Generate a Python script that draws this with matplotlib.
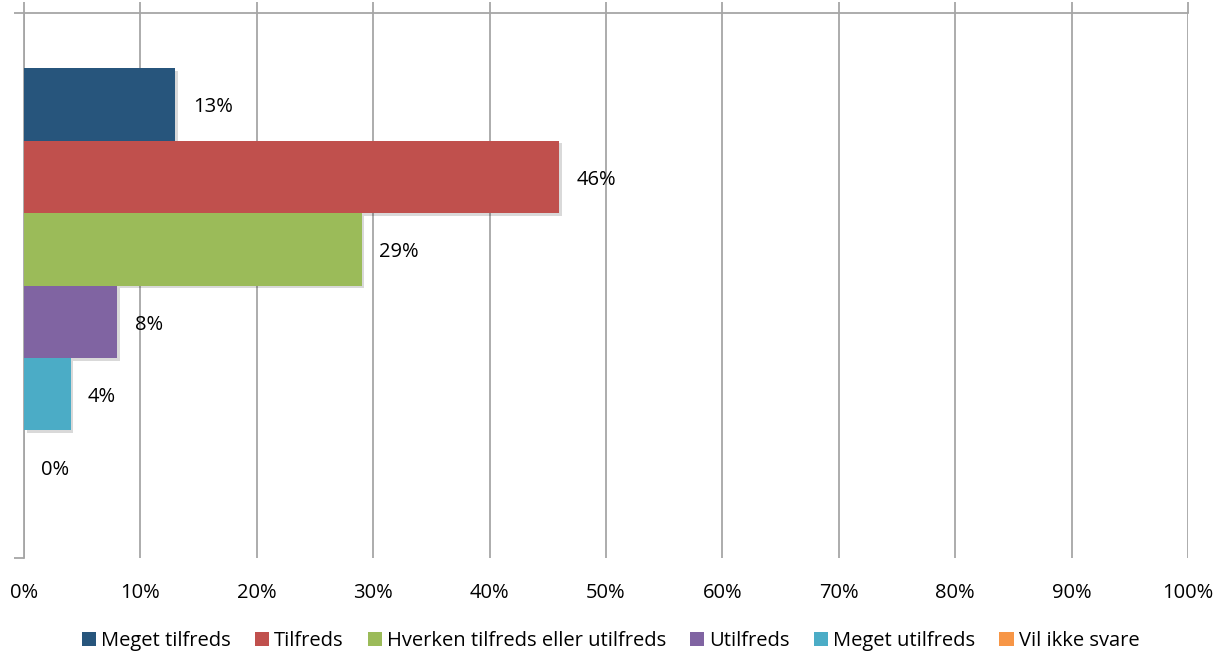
import matplotlib.pyplot as plt
import matplotlib.patheffects as pe
from matplotlib.ticker import PercentFormatter

plt.rcParams['font.family'] = ['Open Sans', 'DejaVu Sans']
plt.rcParams['font.size'] = 14.5

categories = [
    "Meget tilfreds",
    "Tilfreds",
    "Hverken tilfreds eller utilfreds",
    "Utilfreds",
    "Meget utilfreds",
    "Vil ikke svare",
]
values = [13, 46, 29, 8, 4, 0]
colors = ['#27557C', '#C0504D', '#9BBB59', '#8064A2', '#4BACC6', '#F79646']
x_ticks = list(range(0, 101, 10))

fig = plt.figure(figsize=(12.21, 6.59), dpi=100)
ax = fig.add_axes([24 / 1221, 101 / 659, 1164 / 1221, 545 / 659])

grid_col = '#A6A6A6'

bars = []
for i, (lab, v, c) in enumerate(zip(categories, values, colors)):
    bar = ax.barh(i, v, height=1.0, color=c, label=lab, zorder=3)
    bars.append(bar[0])
    ax.text(v + 1.5, i + 0.04, f'{v}%', va='center', ha='left', zorder=4)

ax.set_xlim(0, 100)
ax.set_ylim(6.26, -1.26)
ax.set_xticks(x_ticks)
ax.xaxis.set_major_formatter(PercentFormatter(decimals=0))
ax.grid(axis='x', color=grid_col, linewidth=1.3, zorder=0)
ax.tick_params(axis='x', top=True, bottom=False, labeltop=False, labelbottom=True,
               length=8, color=grid_col, width=1.3, direction='out', pad=10)
ax.set_yticks([-1.26, 6.26])
ax.set_yticklabels([])
ax.tick_params(axis='y', length=7, color=grid_col, width=1.3)

for s in ['top', 'left']:
    ax.spines[s].set_color(grid_col)
    ax.spines[s].set_linewidth(1.3)
for s in ['right', 'bottom']:
    ax.spines[s].set_visible(False)

fig.legend(loc='center', bbox_to_anchor=(0.5, 18 / 659), ncol=6, frameon=False,
           handlelength=0.7, handleheight=0.7, handletextpad=0.25, columnspacing=1.2)

# soft drop shadow on the bars (after legend so the handles stay clean)
shadow = [pe.SimplePatchShadow(offset=(2, -2), shadow_rgbFace='#000000', alpha=0.15), pe.Normal()]
for b, v in zip(bars, values):
    if v > 0:
        b.set_path_effects(shadow)

fig.savefig('out.png', dpi=100)
